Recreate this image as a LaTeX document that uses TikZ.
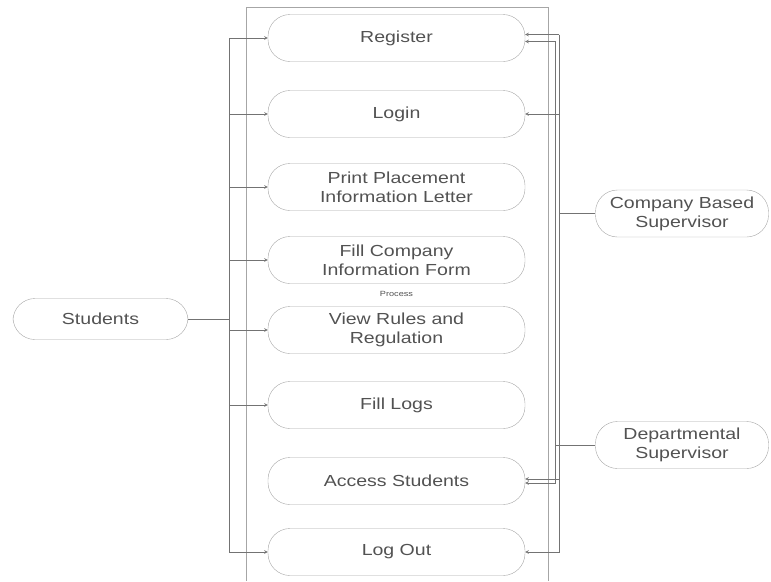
\documentclass[tikz,border=0pt]{standalone}
\usepackage{fontspec}
\setmainfont{Liberation Sans}[FakeStretch=1.22]
\usetikzlibrary{positioning}
\tikzset{
    every node/.append style={font=\fontsize{16}{19}\selectfont, text=black!68},
    usecase/.style={draw=black!35, rounded corners=22pt, minimum width=257pt,
        minimum height=47pt, align=center, inner sep=0pt},
    actor/.style={draw=black!35, rounded corners=22pt, minimum width=173pt,
        minimum height=47pt, align=center, inner sep=0pt},
    link/.style={draw=black!55, line width=0.6pt},
    arr/.style={link, -stealth}}

\begin{document}
\begin{tikzpicture}[x=1pt,y=-1pt]
    \useasboundingbox (0,0) rectangle (771,581);
    % system boundary
    \draw[black!35, line width=0.7pt] (246,581) |- (548,7) -- (548,581);

    \node[usecase] (reg) at (396.5,38) {Register};
    \node[usecase] (login) at (396.5,114) {Login};
    \node[usecase] (print) at (396.5,187) {Print Placement\\Information Letter};
    \node[usecase] (form) at (396.5,260) {Fill Company\\Information Form};
    \node[font=\fontsize{7.5}{9}\selectfont] (proc) at (396.5,294) {Process};
    \node[usecase] (rules) at (396.5,330) {View Rules and\\Regulation};
    \node[usecase] (logs) at (396.5,405) {Fill Logs};
    \node[usecase] (access) at (396.5,481) {Access Students};
    \node[usecase] (out) at (396.5,552) {Log Out};

    \node[actor, minimum width=175pt, minimum height=41pt] (stu) at (100.5,319) {Students};
    \node[actor] (cbs) at (682,213.5) {Company Based\\Supervisor};
    \node[actor] (dep) at (682,445) {Departmental\\Supervisor};

    \coordinate (sbus) at (229,319);
    \coordinate (cbus) at (559,213.5);
    \coordinate (dbus) at (555.5,445);
    \coordinate (regc) at ([yshift=3.5pt]reg.east);
    \coordinate (regd) at ([yshift=-3.5pt]reg.east);
    \coordinate (accc) at ([yshift=2pt]access.east);
    \coordinate (accd) at ([yshift=-2pt]access.east);

    % students
    \draw[link] (stu) -- (sbus);
    \draw[arr] (sbus |- reg.west) |- (out.west);
    \path
    (sbus |- reg.west) edge[arr] (reg.west)
    (sbus |- login.west) edge[arr] (login.west)
    (sbus |- print.west) edge[arr] (print.west)
    (sbus |- form.west) edge[arr] (form.west)
    (sbus |- rules.west) edge[arr] (rules.west)
    (sbus |- logs.west) edge[arr] (logs.west);

    % company based supervisor
    \draw[link] (cbus) -- (cbs);
    \draw[arr] (cbus |- regc) |- (out.east);
    \path
    (cbus |- regc) edge[arr] (regc)
    (cbus |- login.east) edge[arr] (login.east)
    (cbus |- accc) edge[arr] (accc);

    % departmental supervisor
    \draw[link] (dbus) -- (dep);
    \draw[arr] (dbus |- regd) |- (accd);
    \path
    (dbus |- regd) edge[arr] (regd);
\end{tikzpicture}
\end{document}
